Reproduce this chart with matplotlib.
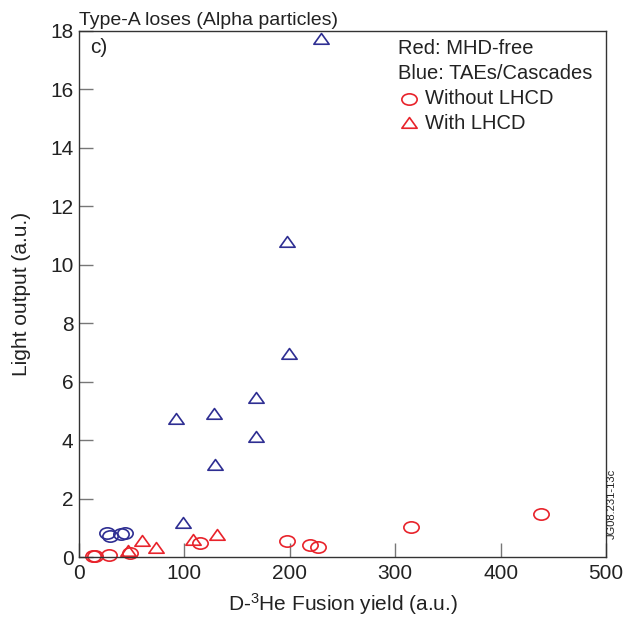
import numpy as np
import matplotlib
matplotlib.use("Agg")
import matplotlib.pyplot as plt
from matplotlib.path import Path

plt.rcParams['font.family'] = ['Liberation Sans', 'DejaVu Sans']
plt.rcParams['mathtext.default'] = 'regular'

# --- DATA ---
# Red: MHD-free
red_circ_x = [13, 15, 28.8, 48.4, 114.8, 197.6, 219, 226.8, 314.7, 438]
red_circ_y = [0.03, 0.03, 0.08, 0.15, 0.47, 0.56, 0.42, 0.33, 1.02, 1.48]
red_tri_x = [46.8, 59.5, 73, 107.9, 130.6]
red_tri_y = [0.22, 0.55, 0.30, 0.58, 0.74]
# Blue: TAEs/Cascades
blue_circ_x = [26.9, 29.4, 39.5, 43.9]
blue_circ_y = [0.81, 0.72, 0.79, 0.83]
blue_tri_x = [99, 91.7, 128.4, 129, 167.6, 168, 197, 199.2, 229.3]
blue_tri_y = [1.15, 4.73, 4.88, 3.14, 5.45, 4.09, 10.78, 6.95, 17.71]

x_ticks = [0, 100, 200, 300, 400, 500]
y_ticks = [0, 2, 4, 6, 8, 10, 12, 14, 16, 18]

RED = "#E8232B"
BLUE = "#2E2E92"

# squashed markers (original figure is stretched sideways)
circ = Path.unit_circle()
ellipse = Path(circ.vertices * np.array([1.0, 0.74]), circ.codes)
tri = Path([(-1, -0.62), (1, -0.62), (0, 0.78), (-1, -0.62)],
           [Path.MOVETO, Path.LINETO, Path.LINETO, Path.CLOSEPOLY])

fig = plt.figure(figsize=(6.25, 6.18), dpi=100)
ax = fig.add_axes([0.1264, 0.0987, 0.8432, 0.8519])

mkw = dict(linestyle='none', markerfacecolor='none', markersize=11, markeredgewidth=1.2, clip_on=False)
ax.plot(red_circ_x, red_circ_y, marker=ellipse, markeredgecolor=RED, **mkw)
ax.plot(red_tri_x, red_tri_y, marker=tri, markeredgecolor=RED, **mkw)
ax.plot(blue_circ_x, blue_circ_y, marker=ellipse, markeredgecolor=BLUE, **mkw)
ax.plot(blue_tri_x, blue_tri_y, marker=tri, markeredgecolor=BLUE, **mkw)

ax.set_xlim(0, 500)
ax.set_ylim(0, 18)
ax.set_xticks(x_ticks)
ax.set_yticks(y_ticks)
ax.tick_params(direction='in', length=10, width=1, color='#777777', labelsize=15,
               labelcolor='#222222', pad=4)
ax.tick_params(axis='x', pad=5)
for s in ax.spines.values():
    s.set_color('#333333')
    s.set_linewidth(1.0)

ax.set_xlabel("D-$^{3}$He Fusion yield (a.u.)", fontsize=15, color='#222222', labelpad=6)
ax.set_ylabel("Light output (a.u.)", fontsize=15, color='#222222', labelpad=14)

ax.text(0.0, 1.003, "Type-A loses (Alpha particles)", transform=ax.transAxes,
        fontsize=14, color='#222222', ha='left', va='bottom')
ax.text(0.022, 0.985, "c)", transform=ax.transAxes, fontsize=15, color='#222222',
        ha='left', va='top')

# legend-like annotations
lx = 0.605
ax.text(lx, 0.965, "Red: MHD-free", transform=ax.transAxes, fontsize=14.5,
        color='#222222', va='center')
ax.text(lx, 0.919, "Blue: TAEs/Cascades", transform=ax.transAxes, fontsize=14.5,
        color='#222222', va='center')
ax.plot([0.626], [0.870], transform=ax.transAxes, marker=ellipse, markeredgecolor=RED, **mkw)
ax.text(0.657, 0.870, "Without LHCD", transform=ax.transAxes, fontsize=14.5,
        color='#222222', va='center')
ax.plot([0.626], [0.824], transform=ax.transAxes, marker=tri, markeredgecolor=RED, **mkw)
ax.text(0.657, 0.824, "With LHCD", transform=ax.transAxes, fontsize=14.5,
        color='#222222', va='center')

fig.text(0.979, 0.185, "JG08.231-13c", rotation=90, fontsize=8, color='#222222',
         ha='center', va='center')

fig.savefig("out.png", dpi=100)
